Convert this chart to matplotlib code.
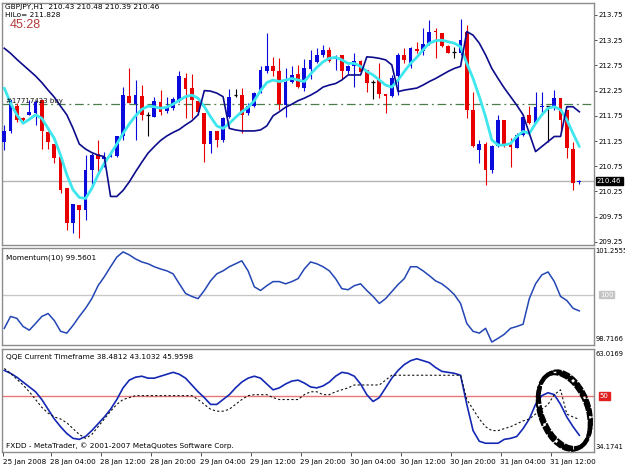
import matplotlib
matplotlib.use('Agg')
import matplotlib.pyplot as plt
from matplotlib.patches import Ellipse
from matplotlib.transforms import blended_transform_factory as btf

# ---------------- data ----------------
opens = [211.24, 211.44, 211.95, 211.70, 211.77, 211.80, 212.06, 211.42, 211.20, 210.94,
         210.31, 209.62, 209.98, 209.88, 210.68, 210.99, 210.89, 210.94, 210.95, 211.34,
         212.15, 211.98, 212.14, 211.76, 211.73, 212.03, 211.85, 211.90, 212.06, 212.51,
         212.30, 212.04, 211.80, 211.20, 211.44, 211.27, 211.73, 212.16, 212.16, 211.80,
         211.95, 212.21, 212.64, 212.74, 212.63, 211.97, 212.43, 212.58, 212.30, 212.67,
         212.82, 212.96, 213.06, 212.87, 212.96, 212.63, 212.73, 212.84, 212.65, 212.43,
         212.46, 212.18, 212.14, 212.53, 212.96, 212.73, 213.07, 213.04, 213.18, 213.44,
         213.40, 213.14, 213.02, 213.00, 213.42, 211.87, 211.07, 211.20, 210.68, 211.15,
         211.67, 211.20, 211.11, 211.37, 211.77, 211.61, 211.92, 211.95, 211.92, 212.10,
         211.87, 211.09, 210.43]
highs = [211.57, 212.06, 212.00, 211.72, 212.06, 212.06, 212.06, 211.44, 211.20, 210.94,
         210.31, 210.01, 209.98, 210.97, 211.01, 211.27, 211.04, 211.07, 211.34, 212.32,
         212.69, 212.46, 212.36, 211.83, 212.13, 212.26, 212.13, 212.13, 212.63, 212.59,
         212.58, 212.06, 211.80, 211.44, 211.44, 211.73, 212.28, 212.28, 212.30, 212.00,
         212.23, 212.73, 213.39, 212.92, 212.89, 212.69, 212.73, 212.76, 212.87, 213.06,
         213.09, 213.16, 213.12, 212.96, 212.96, 212.76, 212.99, 212.86, 212.66, 212.46,
         212.79, 212.18, 212.56, 212.99, 213.09, 213.12, 213.22, 213.49, 213.65, 213.49,
         213.40, 213.16, 213.12, 213.68, 213.55, 212.23, 211.27, 211.24, 211.17, 211.77,
         211.67, 211.30, 211.40, 211.77, 211.95, 212.23, 212.23, 211.95, 212.26, 212.10,
         211.87, 211.24, 210.48]
lows = [211.07, 211.40, 211.63, 211.65, 211.77, 211.57, 211.10, 211.10, 210.81, 210.21,
        209.48, 209.42, 209.32, 209.68, 210.34, 210.58, 210.74, 210.93, 210.94, 211.27,
        212.00, 211.27, 211.67, 211.34, 211.73, 211.77, 211.80, 211.87, 212.03, 211.70,
        211.70, 211.77, 210.84, 211.02, 211.14, 211.24, 211.70, 212.13, 211.40, 211.77,
        211.93, 212.20, 212.59, 212.53, 211.87, 211.73, 212.40, 212.30, 212.25, 212.49,
        212.79, 212.92, 212.82, 212.66, 212.49, 212.58, 212.33, 212.59, 212.23, 212.08,
        212.10, 211.80, 212.13, 212.16, 212.79, 212.69, 212.99, 212.96, 213.16, 212.89,
        213.12, 212.99, 212.89, 212.96, 211.70, 211.14, 210.81, 210.38, 210.61, 211.14,
        211.14, 210.74, 211.11, 211.35, 211.59, 211.60, 211.77, 211.24, 211.87, 211.44,
        210.91, 210.28, 210.39]
closes = [211.44, 212.06, 211.67, 211.67, 211.83, 212.03, 211.44, 211.24, 210.91, 210.28,
          209.62, 210.01, 209.88, 210.68, 210.97, 210.89, 210.94, 210.97, 211.34, 212.16,
          212.01, 212.16, 211.77, 211.76, 212.04, 211.83, 211.93, 212.08, 212.53, 212.28,
          212.06, 211.83, 211.20, 211.44, 211.27, 211.70, 212.13, 212.16, 211.77, 211.95,
          212.21, 212.66, 212.74, 212.63, 211.98, 212.43, 212.56, 212.32, 212.69, 212.86,
          212.96, 213.06, 212.84, 212.91, 212.63, 212.74, 212.84, 212.61, 212.40, 212.43,
          212.18, 212.15, 212.51, 212.96, 212.86, 213.09, 213.04, 213.18, 213.42, 213.42,
          213.14, 213.00, 213.02, 213.25, 211.87, 211.15, 211.20, 210.68, 211.15, 211.67,
          211.20, 211.14, 211.37, 211.73, 211.61, 211.93, 211.95, 211.95, 212.10, 211.67,
          211.11, 210.41, 210.46]
ma_cyan = [212.30, 212.00, 211.77, 211.60, 211.68, 211.77, 211.70, 211.50, 211.30, 210.97,
           210.58, 210.28, 210.13, 210.11, 210.31, 210.58, 210.81, 210.99, 211.19, 211.40,
           211.59, 211.75, 211.88, 211.94, 211.93, 211.90, 211.92, 211.98, 212.06, 212.13,
           212.16, 212.10, 211.93, 211.73, 211.55, 211.50, 211.60, 211.72, 211.83, 211.92,
           212.05, 212.25, 212.41, 212.46, 212.43, 212.46, 212.49, 212.46, 212.43, 212.58,
           212.71, 212.82, 212.89, 212.91, 212.86, 212.79, 212.79, 212.73, 212.63, 212.56,
           212.46, 212.36, 212.32, 212.46, 212.63, 212.79, 212.91, 213.06, 213.19, 213.24,
           213.25, 213.22, 213.19, 213.12, 212.79, 212.49, 212.13, 211.73, 211.27, 211.17,
           211.17, 211.20, 211.34, 211.44, 211.40, 211.60, 211.77, 211.90, 211.93, 211.87,
           211.67, 211.40, 211.14]
hilo = [213.09, 212.99, 212.87, 212.76, 212.65, 212.54, 212.41, 212.26, 212.12, 211.94,
        211.77, 211.50, 211.19, 211.09, 211.02, 210.97, 210.94, 210.15, 210.15, 210.27,
        210.44, 210.64, 210.83, 211.01, 211.14, 211.26, 211.35, 211.42, 211.48, 211.57,
        211.65, 211.77, 212.25, 212.24, 212.20, 212.13, 211.50, 211.47, 211.45, 211.45,
        211.45, 211.47, 211.55, 211.75, 211.83, 211.92, 211.98, 212.05, 212.10, 212.16,
        212.23, 212.32, 212.36, 212.39, 212.46, 212.56, 212.56, 212.56, 212.92, 212.91,
        212.89, 212.86, 212.76, 212.23, 212.26, 212.28, 212.30, 212.36, 212.43, 212.49,
        212.56, 212.63, 212.69, 212.73, 213.42, 213.35, 213.19, 212.96, 212.69, 212.49,
        212.30, 212.13, 211.96, 211.77, 211.40, 211.04, 211.14, 211.24, 211.34, 211.34,
        211.93, 211.93, 211.83]
momentum = [99.09, 99.41, 99.36, 99.14, 99.04, 99.22, 99.41, 99.49, 99.30, 99.01,
            98.96, 99.17, 99.41, 99.63, 99.89, 100.24, 100.48, 100.75, 101.01, 101.15,
            101.07, 100.96, 100.88, 100.83, 100.75, 100.69, 100.64, 100.56, 100.29, 100.03,
            99.95, 99.89, 100.11, 100.37, 100.56, 100.64, 100.75, 100.83, 100.91, 100.64,
            100.21, 100.11, 100.24, 100.35, 100.35, 100.29, 100.35, 100.43, 100.69, 100.88,
            100.83, 100.75, 100.64, 100.43, 100.16, 100.13, 100.24, 100.29, 100.11, 99.95,
            99.76, 99.89, 100.08, 100.27, 100.43, 100.75, 100.75, 100.64, 100.51, 100.37,
            100.29, 100.16, 100.00, 99.76, 99.22, 99.01, 98.96, 99.09, 98.72, 98.82,
            98.93, 99.09, 99.14, 99.20, 99.89, 100.29, 100.53, 100.61, 100.35, 99.95,
            99.84, 99.63, 99.56]
qqe_rsi = [57.36, 56.51, 55.38, 53.97, 52.55, 51.14, 48.88, 46.05, 43.22, 40.96,
           38.98, 37.57, 37.28, 38.13, 39.83, 41.81, 43.79, 46.05, 48.88, 52.27,
           54.53, 55.38, 55.67, 55.10, 55.10, 55.67, 56.23, 56.80, 56.23, 55.10,
           53.12, 51.14, 49.44, 47.46, 47.46, 48.88, 50.29, 52.27, 53.97, 55.10,
           55.67, 55.10, 53.40, 51.71, 52.27, 53.40, 54.25, 54.53, 53.68, 52.55,
           52.27, 52.84, 53.97, 55.67, 56.80, 56.51, 55.67, 53.40, 50.29, 48.31,
           49.44, 52.27, 55.10, 57.36, 59.06, 60.19, 60.75, 60.19, 59.62, 58.21,
           57.08, 56.80, 56.51, 55.95, 47.46, 39.83, 36.72, 36.15, 36.15, 36.15,
           37.28, 37.57, 38.13, 40.40, 43.22, 47.46, 50.01, 50.86, 50.29, 47.46,
           43.79, 40.96, 38.48]
qqe_trail = [57.93, 56.51, 54.82, 53.12, 51.14, 48.88, 46.62, 44.92, 43.79, 43.22,
             42.09, 40.40, 38.70, 37.57, 38.70, 40.96, 43.22, 45.48, 47.46, 48.88,
             49.44, 50.01, 50.01, 50.01, 50.01, 50.01, 50.01, 50.01, 50.01, 50.01,
             50.01, 48.88, 47.46, 46.05, 45.48, 45.48, 46.05, 47.46, 48.88, 50.01,
             50.29, 50.29, 50.29, 49.44, 48.88, 48.88, 48.88, 48.88, 50.29, 51.14,
             51.14, 50.29, 50.29, 51.14, 51.71, 52.27, 53.12, 53.12, 53.12, 53.12,
             53.12, 54.53, 55.95, 55.95, 55.95, 55.95, 55.95, 55.95, 55.95, 55.95,
             55.95, 55.95, 55.95, 55.95, 48.88, 46.05, 43.22, 40.96, 39.83, 39.83,
             40.40, 40.96, 41.81, 42.66, 43.22, 44.64, 46.05, 47.46, 50.29, 51.71,
             44.64, 43.79, 43.10]
tick_labels = ["25 Jan 2008", "28 Jan 04:00", "28 Jan 12:00", "28 Jan 20:00", "29 Jan 04:00",
               "29 Jan 12:00", "29 Jan 20:00", "30 Jan 04:00", "30 Jan 12:00", "30 Jan 20:00",
               "31 Jan 04:00", "31 Jan 12:00"]
tick_pos = [-0.26, 7.39, 15.39, 23.39, 31.39, 39.39, 47.39, 55.39, 63.39, 71.39, 79.39, 87.39]
price_ticks = [209.25, 209.75, 210.25, 210.75, 211.25, 211.75, 212.25, 212.75, 213.25, 213.75]
bid = 210.46
order_price = 211.98
mom_range = (98.7166, 101.2555)
qqe_range = (34.1741, 63.0169)

# ---------------- figure ----------------
W, H = 625, 469
fig = plt.figure(figsize=(W / 100, H / 100), dpi=100)
fig.patch.set_facecolor('white')
plt.rcParams['font.family'] = ['DejaVu Sans']

def px_axes(x0, y0, x1, y1):
    return fig.add_axes([x0 / W, 1 - y1 / H, (x1 - x0) / W, (y1 - y0) / H])

ax = px_axes(2, 3, 594, 245)
axm = px_axes(2, 248, 594, 345)
axq = px_axes(2, 349, 594, 452)

n = len(closes)
idx = list(range(n))
XL = (-0.37, 94.35)
FS = 5.0
BLUE, RED = '#0a0adc', '#e80000'

for a in (ax, axm, axq):
    a.set_xlim(*XL)
    a.set_facecolor('white')
    for s in a.spines.values():
        s.set_color('#8c8c8c')
        s.set_linewidth(1.0)
    a.yaxis.tick_right()
    a.tick_params(axis='y', which='both', length=2, width=0.6, color='#333333',
                  labelsize=FS, pad=1, direction='out')
    a.set_xticks([])

# candles
for i in idx:
    o, h, l, c = opens[i], highs[i], lows[i], closes[i]
    col = BLUE if c > o else (RED if c < o else '#000000')
    ax.vlines(i, l, h, color=col, lw=0.8, zorder=2)
    if c == o:
        ax.hlines(c, i - 0.3, i + 0.3, color=col, lw=0.9, zorder=3)
    else:
        ax.bar(i, abs(c - o), bottom=min(o, c), width=0.6, color=col, lw=0, zorder=3)
ax.plot(idx, ma_cyan, color='#3ee6ee', lw=2.0, zorder=4, solid_capstyle='round')
ax.plot(idx, hilo, color='#0c0c8c', lw=1.2, zorder=5)
ax.axhline(order_price, color='#4a7d4a', lw=0.9, ls=(0, (7, 3, 1.5, 3)), zorder=1)
ax.axhline(bid, color='#b4b4b4', lw=1.0, zorder=1)
ax.text(0.3, order_price + 0.01, "#17717423 buy", fontsize=FS, va='bottom', ha='left', color='#111111', zorder=6)
ax.set_ylim(209.187, 213.988)
ax.set_yticks(price_ticks)
ax.set_yticklabels([f"{p:.2f}" for p in price_ticks])
tr = btf(ax.transAxes, ax.transData)
ax.text(1.005, bid, f"{bid:.2f}", transform=tr, fontsize=FS, color='white', va='center', ha='left',
        bbox=dict(boxstyle='square,pad=0.15', fc='black', ec='black'), zorder=10)

fig.text(5 / W, 1 - 7.5 / H, "GBPJPY,H1  210.43 210.48 210.39 210.46", fontsize=5.3, va='center', ha='left')
fig.text(5 / W, 1 - 15 / H, "HiLo= 211.828", fontsize=5.3, va='center', ha='left')
fig.text(10 / W, 1 - 25.5 / H, "45:28", fontsize=9, va='center', ha='left', color='#b23a3a',
         family='Liberation Sans')

# momentum
axm.plot(idx, momentum, color='#2346b4', lw=1.1, zorder=3)
axm.axhline(100, color='#c8c8c8', lw=1.0, zorder=1)
span = mom_range[1] - mom_range[0]
axm.set_ylim(mom_range[0] - span * 0.03, mom_range[1] + span * 0.0)
axm.set_yticks(list(mom_range))
axm.set_yticklabels([f"{mom_range[0]:.4f}", f"{mom_range[1]:.4f}"])
labs = axm.get_yticklabels()
labs[0].set_va('bottom'); labs[1].set_va('top')
axm.tick_params(axis='y', length=0, labelsize=4.9)
trm = btf(axm.transAxes, axm.transData)
axm.text(1.01, 100, "100", transform=trm, fontsize=FS, color='white', va='center', ha='left',
         bbox=dict(boxstyle='square,pad=0.12', fc='#c4c4c4', ec='#c4c4c4'))
axm.text(0.006, 0.93, "Momentum(10) 99.5601", transform=axm.transAxes, fontsize=5.3, va='top', ha='left')

# QQE
axq.plot(idx, qqe_rsi, color='#1428b4', lw=1.2, zorder=3)
axq.plot(idx, qqe_trail, color='#111111', lw=0.8, ls=(0, (2, 2)), zorder=3)
axq.axhline(50, color='#e87878', lw=1.0, zorder=1)
span = qqe_range[1] - qqe_range[0]
axq.set_ylim(qqe_range[0] - span * 0.02, qqe_range[1] + span * 0.02)
axq.set_yticks(list(qqe_range))
axq.set_yticklabels([f"{qqe_range[0]:.4f}", f"{qqe_range[1]:.4f}"])
labs = axq.get_yticklabels()
labs[0].set_va('bottom'); labs[1].set_va('top')
axq.tick_params(axis='y', length=0, labelsize=4.9)
trq = btf(axq.transAxes, axq.transData)
axq.text(1.01, 50, "50", transform=trq, fontsize=FS, color='white', va='center', ha='left',
         bbox=dict(boxstyle='square,pad=0.12', fc='#e02020', ec='#e02020'))
axq.text(0.006, 0.95, "QQE Current Timeframe 38.4812 43.1032 45.9598", transform=axq.transAxes,
         fontsize=5.3, va='top', ha='left')
axq.text(0.006, 0.03, "FXDD - MetaTrader, \u00a9 2001-2007 MetaQuotes Software Corp.",
         transform=axq.transAxes, fontsize=5.3, va='bottom', ha='left')
# hand-drawn circle annotation
for dx, dy, lw in [(0, 0, 3.2), (0.25, 0.6, 1.5), (-0.25, -0.5, 1.5)]:
    axq.add_patch(Ellipse((89.6 + dx, 45.6 + dy), 7.8, 22.5, angle=8, fill=False, ec='black',
                          lw=lw, zorder=6, ls=(0, (4, 0.6))))

# x ticks on bottom panel
axq.set_xticks(tick_pos)
axq.set_xticklabels(tick_labels, fontsize=5.2, ha='left')
axq.tick_params(axis='x', length=3, width=0.6, color='#333333', pad=2, direction='out')

fig.savefig('out.png', dpi=100, facecolor='white')
